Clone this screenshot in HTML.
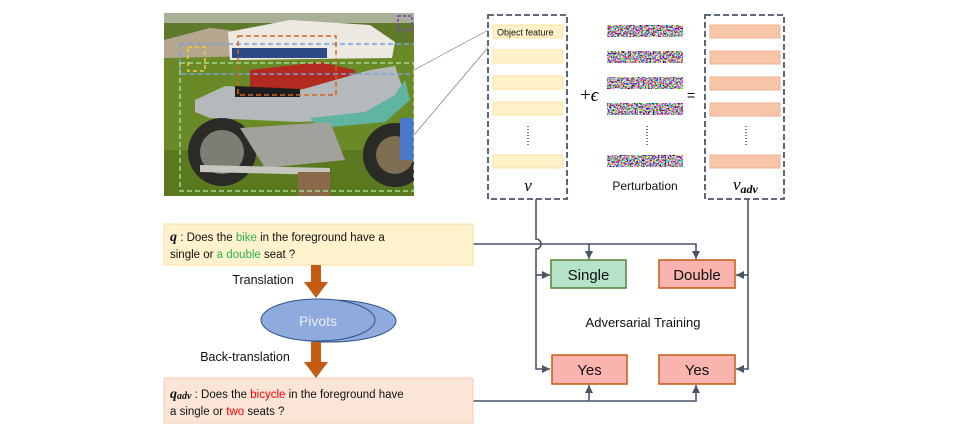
<!DOCTYPE html>
<html><head><meta charset="utf-8"><style>
html,body{margin:0;padding:0;background:#fff;}
svg{display:block}
.s{font-family:"Liberation Sans",sans-serif;}
.m{font-family:"Liberation Serif",serif;font-style:italic;}
</style></head><body>
<svg width="953" height="430" viewBox="0 0 953 430" xmlns="http://www.w3.org/2000/svg" class="s">
<defs>
<filter id="noise" x="0" y="0" width="100%" height="100%" filterUnits="objectBoundingBox">
<feTurbulence type="fractalNoise" baseFrequency="0.6" numOctaves="2" seed="3" result="t"/>
<feColorMatrix in="t" type="matrix" values="4.5 0 0 0 -1.7  0 4.5 0 0 -1.8  0 0 4.5 0 -1.7  0 0 0 0 1" result="c"/>
<feComposite in="c" in2="SourceGraphic" operator="in"/>
</filter>
<clipPath id="ph"><rect x="164" y="13" width="250" height="183"/></clipPath>
<marker id="ar" markerWidth="6" markerHeight="6" refX="5" refY="3" orient="auto"><path d="M0,0.5 L5,3 L0,5.5 z" fill="#4a5568"/></marker>
</defs>

<!-- photo -->
<g clip-path="url(#ph)">
<rect x="164" y="13" width="250" height="183" fill="#6a8a28"/>
<rect x="164" y="13" width="250" height="10" fill="#a8b098"/>
<rect x="164" y="23" width="250" height="20" fill="#5e7a2a"/>
<rect x="164" y="150" width="250" height="46" fill="#5b7a20"/>
<path d="M164,40 L210,28 L255,33 L262,56 L164,58 z" fill="#b5a78f"/>
<path d="M228,32 L290,20 L370,25 L395,42 L392,58 L230,60 z" fill="#ece9e2"/>
<rect x="232" y="48" width="95" height="10" fill="#2c4a86"/>
<path d="M250,70 L320,62 L355,70 L352,88 L250,90 z" fill="#b22a20"/>
<path d="M195,100 L225,86 L300,90 L370,70 L395,66 L405,95 L380,118 L300,122 L210,118 L195,112 z" fill="#b6b9bb"/>
<path d="M310,118 L365,112 L395,95 L405,80 L410,100 L385,122 L320,128 z" fill="#5fb5a2"/>
<path d="M235,86 L300,89 L300,97 L235,97 z" fill="#1e1e1e"/>
<circle cx="222" cy="152" r="34" fill="#2a2a26"/><circle cx="222" cy="152" r="22" fill="#7d7d73"/>
<circle cx="395" cy="155" r="32" fill="#2a2a26"/><circle cx="395" cy="155" r="19" fill="#7f6f52"/>
<path d="M240,128 L330,122 L345,160 L265,168 z" fill="#a2a29c"/>
<path d="M200,165 L330,168 L330,175 L200,172 z" fill="#c6c6c0"/>
<rect x="298" y="172" width="32" height="24" fill="#8a6a4a"/>
<rect x="400" y="118" width="14" height="42" fill="#4a78c8"/>
<rect x="180" y="44" width="240" height="30" fill="none" stroke="#7aa0e0" stroke-width="1.5" stroke-dasharray="5,3"/>
<rect x="238" y="36" width="98" height="59" fill="none" stroke="#d0651e" stroke-width="1.5" stroke-dasharray="5,3"/>
<rect x="180" y="63" width="234" height="128" fill="none" stroke="#a8d890" stroke-width="1.5" stroke-dasharray="5,3"/>
<rect x="188" y="47" width="17" height="24" fill="none" stroke="#f5c842" stroke-width="1.5" stroke-dasharray="4,3"/>
<rect x="398" y="16" width="14" height="14" fill="none" stroke="#7a3ec0" stroke-width="1.5" stroke-dasharray="3,2"/>
</g>
<line x1="414" y1="70" x2="492" y2="28" stroke="#777" stroke-width="0.7"/>
<line x1="414" y1="135" x2="496" y2="38" stroke="#777" stroke-width="0.7"/>

<!-- v box -->
<rect x="488" y="15" width="79" height="184" fill="#fff" stroke="#4a5568" stroke-width="1.8" stroke-dasharray="6,3"/>
<g fill="#fff1c8" stroke="#fbe3a0" stroke-width="1">
<rect x="493" y="25" width="70" height="13"/>
<rect x="493" y="50" width="70" height="13"/>
<rect x="493" y="76" width="70" height="13"/>
<rect x="493" y="102" width="70" height="13"/>
<rect x="493" y="155" width="70" height="13"/>
</g>
<text x="497" y="35.5" font-size="9" fill="#111">Object feature</text>
<line x1="528" y1="126" x2="528" y2="147" stroke="#222" stroke-width="1.2" stroke-dasharray="1,2"/>
<text x="528" y="191" font-size="17" class="m" text-anchor="middle">v</text>

<text x="580" y="101" font-size="19" style="font-family:'Liberation Serif',serif">+<tspan font-style="italic">ϵ</tspan></text>
<text x="687" y="100" font-size="14">=</text>

<!-- perturbation -->
<g fill="#000">
<rect x="607" y="25" width="76" height="12" filter="url(#noise)"/>
<rect x="607" y="51" width="76" height="12" filter="url(#noise)"/>
<rect x="607" y="77" width="76" height="12" filter="url(#noise)"/>
<rect x="607" y="103" width="76" height="12" filter="url(#noise)"/>
<rect x="607" y="155" width="76" height="12" filter="url(#noise)"/>
</g>
<line x1="647" y1="126" x2="647" y2="147" stroke="#222" stroke-width="1.2" stroke-dasharray="1,2"/>
<text x="645" y="190" font-size="12" text-anchor="middle" fill="#111">Perturbation</text>

<!-- v_adv box -->
<rect x="705" y="15" width="79" height="184" fill="#fff" stroke="#4a5568" stroke-width="1.8" stroke-dasharray="6,3"/>
<g fill="#f7c6a8" stroke="#f0b090" stroke-width="1">
<rect x="710" y="25" width="70" height="13"/>
<rect x="710" y="51" width="70" height="13"/>
<rect x="710" y="77" width="70" height="13"/>
<rect x="710" y="103" width="70" height="13"/>
<rect x="710" y="155" width="70" height="13"/>
</g>
<line x1="746" y1="126" x2="746" y2="147" stroke="#222" stroke-width="1.2" stroke-dasharray="1,2"/>
<text x="733" y="190" font-size="17" class="m">v<tspan font-size="12" dy="3" font-weight="bold">adv</tspan></text>

<!-- connectors -->
<g fill="none" stroke="#4a5568" stroke-width="1.6">
<path d="M536,199 V239 A5,5 0 0 1 536,249 V369 H550" marker-end="url(#ar)"/>
<path d="M536,275 H550" marker-end="url(#ar)"/>
<path d="M473,244 H696 V259" marker-end="url(#ar)"/>
<path d="M589,244 V259" marker-end="url(#ar)"/>
<path d="M748,199 V369 H736" marker-end="url(#ar)"/>
<path d="M748,275 H736" marker-end="url(#ar)"/>
<path d="M473,401 H696 V385" marker-end="url(#ar)"/>
<path d="M589,401 V385" marker-end="url(#ar)"/>
</g>

<!-- answer boxes -->
<rect x="551" y="260" width="75" height="28" fill="#b7e4c9" stroke="#538135" stroke-width="1.5"/>
<text x="588.5" y="280" font-size="15" text-anchor="middle" fill="#111">Single</text>
<rect x="659" y="260" width="76" height="28" fill="#f9b4b0" stroke="#c55a11" stroke-width="1.5"/>
<text x="697" y="280" font-size="15" text-anchor="middle" fill="#111">Double</text>
<rect x="552" y="355" width="75" height="29" fill="#f9b4b0" stroke="#c55a11" stroke-width="1.5"/>
<text x="589.5" y="375" font-size="15" text-anchor="middle" fill="#111">Yes</text>
<rect x="659" y="355" width="76" height="29" fill="#f9b4b0" stroke="#c55a11" stroke-width="1.5"/>
<text x="697" y="375" font-size="15" text-anchor="middle" fill="#111">Yes</text>
<text x="643" y="327" font-size="13" text-anchor="middle" fill="#111">Adversarial Training</text>

<!-- q box -->
<rect x="164" y="224" width="309" height="41" fill="#fff2cc" stroke="#fbe0a0" stroke-width="1"/>
<text x="170" y="241" font-size="11.5" fill="#111"><tspan class="m" font-weight="bold" font-size="14">q</tspan> : Does the <tspan fill="#2bb44a">bike</tspan> in the foreground have a</text>
<text x="170" y="258" font-size="11.5" fill="#111">single or <tspan fill="#2bb44a">a double</tspan> seat ?</text>

<!-- translation arrows -->
<polygon points="311,265 321,265 321,282 328,282 316,298 304,282 311,282" fill="#c55a11"/>
<text x="263" y="284" font-size="12.5" text-anchor="middle" fill="#111">Translation</text>
<ellipse cx="330" cy="321" rx="66" ry="21" fill="#8faadc" stroke="#2f528f" stroke-width="1"/>
<ellipse cx="318" cy="320" rx="57" ry="21" fill="#8faadc" stroke="#2f528f" stroke-width="1"/>
<text x="318" y="326" font-size="14" text-anchor="middle" fill="#e8eef8">Pivots</text>
<polygon points="311,342 321,342 321,362 328,362 316,378 304,362 311,362" fill="#c55a11"/>
<text x="245" y="361" font-size="12.5" text-anchor="middle" fill="#111">Back-translation</text>

<!-- q_adv box -->
<rect x="164" y="378" width="309" height="45" fill="#fbe5d6" stroke="#f6cbb0" stroke-width="1"/>
<text x="170" y="398" font-size="11.5" fill="#111"><tspan class="m" font-weight="bold" font-size="14">q<tspan font-size="10" dy="1">adv</tspan></tspan><tspan dy="-1"> : Does the </tspan><tspan fill="#ff0000">bicycle</tspan> in the foreground have</text>
<text x="170" y="415" font-size="11.5" fill="#111">a single or <tspan fill="#ff0000">two</tspan> seats ?</text>
</svg>
</body></html>
